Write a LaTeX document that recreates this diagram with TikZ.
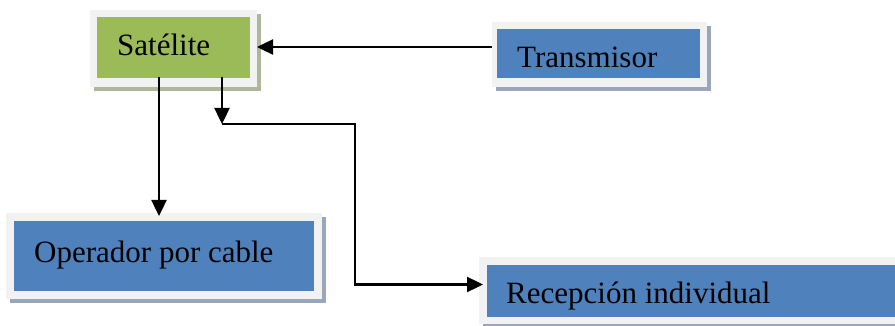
\documentclass[tikz,border=0pt]{standalone}
\usepackage{fontspec}
\setmainfont{Liberation Serif}
\usetikzlibrary{arrows.meta,shadows}
\definecolor{panelgray}{HTML}{F2F2F2}
\definecolor{satgreen}{HTML}{9BBB59}
\definecolor{boxblue}{HTML}{4F81BD}
\definecolor{shgreen}{HTML}{AEB79C}
\definecolor{shblue}{HTML}{99A6BC}
\tikzset{
  panel/.style={rectangle, inner sep=0pt, outer sep=0pt, fill=panelgray,
    general shadow={fill=#1, shadow xshift=4pt, shadow yshift=-4pt}},
  lbl/.style={anchor=base west, inner sep=0pt, font=\fontsize{31}{36}\selectfont},
  arr/.style={draw=black, line width=2.4pt, -{Triangle[length=16pt,width=15pt]}},
}
\begin{document}
\begin{tikzpicture}[x=1pt, y=-1pt]
\begin{scope}
\clip (0,0) rectangle (895,326);
\fill[white] (0,0) rectangle (895,326);

% outer framed panels
\node[panel=shgreen, minimum width=167pt, minimum height=77pt] (sat) at (173.5,48.5) {};
\node[panel=shblue, minimum width=215pt, minimum height=65pt] (tx) at (599.5,54.5) {};
\node[panel=shblue, minimum width=316pt, minimum height=86pt] (op) at (164,256) {};
\node[panel=shblue, minimum width=426pt, minimum height=67pt] (rx) at (692,290.5) {};

% coloured faces inside the panels
\fill[satgreen] ([shift={(7pt,-7pt)}]sat.north west) rectangle ([shift={(-7pt,9pt)}]sat.south east);
\fill[boxblue] ([shift={(5pt,-7pt)}]tx.north west) rectangle ([shift={(-7pt,9pt)}]tx.south east);
\fill[boxblue] ([shift={(8pt,-8pt)}]op.north west) rectangle ([shift={(-8pt,8pt)}]op.south east);
\fill[boxblue] ([shift={(8pt,-8pt)}]rx.north west) rectangle ([shift={(-8pt,7pt)}]rx.south east);

% labels
\node[lbl] (satlbl) at (117,56) {Satélite};
\node[lbl] (txlbl) at (517,68) {Transmisor};
\node[lbl] (oplbl) at (34,262) {Operador por cable};
\node[lbl] (rxlbl) at (506,303) {Recepción individual};

% connectors
\draw[arr] ([yshift=7.5pt]tx.west) -- ([yshift=7.5pt]tx.west -| sat.east);
\draw[arr] ([xshift=-14.5pt,yshift=10pt]sat.south) -- ([xshift=-14.5pt,yshift=-3pt]sat.south |- op.north);
\coordinate (split) at ([xshift=48.5pt,yshift=-37pt]sat.south);
\draw[arr] ([xshift=48.5pt,yshift=10pt]sat.south) -- (split);
\draw[arr] (split) -| ([xshift=-124pt,yshift=6pt]rx.west) -- ([xshift=4pt,yshift=6pt]rx.west);
\end{scope}
% page size fixed to the drawing area
\pgfresetboundingbox
\useasboundingbox (0,0) rectangle (895,326);
\end{tikzpicture}
\end{document}
